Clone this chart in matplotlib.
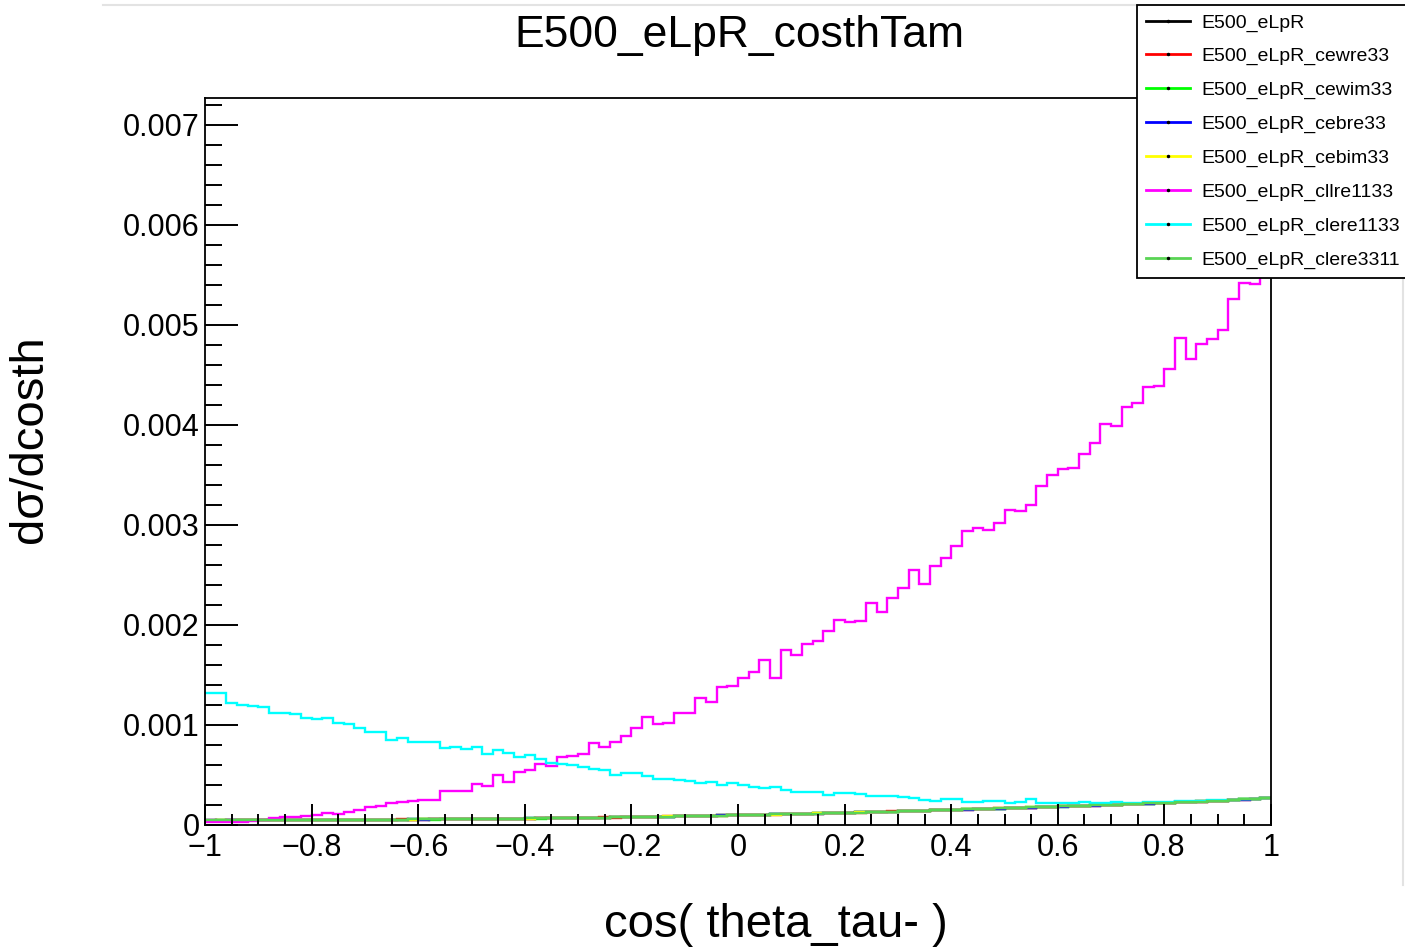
import numpy as np
import matplotlib
matplotlib.use("Agg")
import matplotlib.pyplot as plt
from matplotlib.lines import Line2D
from matplotlib.ticker import MultipleLocator, FuncFormatter

plt.rcParams['font.family'] = ['Liberation Sans', 'DejaVu Sans']

# ---------------- data (values in units of 1e-6) ----------------
x_range = (-1.0, 1.0)
n_bins = 100
unit = 1e-6

eLpR = [45,46,46,47,47,48,48,49,49,50,
        50,51,51,52,52,53,53,54,54,55,
        56,56,57,58,59,60,61,62,63,64,
        65,66,68,69,70,72,73,75,76,78,
        80,81,83,85,87,89,91,93,95,97,
        99,101,104,106,108,111,113,116,118,121,
        124,126,129,132,135,138,141,144,147,150,
        153,156,159,162,165,169,172,175,179,182,
        186,189,193,196,200,204,207,211,215,219,
        223,227,231,235,239,244,250,256,262,270]
cewre33 = [47,44,48,46,49,47,50,48,47,51,
           49,52,50,53,51,54,52,53,56,54,
           55,58,56,59,57,61,60,63,62,65,
           64,67,67,70,69,73,72,76,75,79,
           79,83,82,86,86,90,90,94,96,96,
           101,100,105,105,110,110,115,115,120,120,
           125,125,130,131,136,137,142,143,148,149,
           155,155,160,161,167,168,174,174,180,181,
           188,188,195,195,202,203,209,210,217,218,
           225,226,233,234,241,243,252,255,264,269]
cewim33 = [44,47,45,48,46,49,47,50,48,49,
           51,50,52,51,53,52,54,53,55,56,
           57,55,58,57,60,59,62,61,64,63,
           66,65,69,68,71,71,74,74,77,77,
           81,80,84,84,88,88,92,92,96,98,
           98,102,103,107,107,112,112,117,117,122,
           123,127,128,133,134,139,140,145,146,151,
           152,157,158,163,164,170,171,176,178,183,
           185,190,192,197,199,205,206,212,214,220,
           222,228,230,236,238,245,249,257,261,271]
cebre33 = [46,45,47,46,48,48,49,48,50,49,
           51,50,52,52,51,54,54,55,53,56,
           55,57,58,57,58,61,60,62,64,63,
           66,67,67,70,71,71,74,74,77,79,
           79,82,84,84,88,88,92,92,96,96,
           100,102,103,107,109,110,114,115,119,122,
           123,127,130,131,134,139,142,143,148,151,
           154,155,160,163,164,170,173,174,180,183,
           185,190,194,195,201,203,208,212,214,220,
           224,226,232,236,240,243,251,255,263,270]
cebim33 = [45,47,45,48,46,47,49,48,50,50,
           49,52,50,51,53,52,54,55,54,55,
           57,56,56,59,58,60,62,61,63,65,
           65,66,69,68,71,73,72,75,77,77,
           81,80,83,86,86,90,91,94,94,98,
           98,101,105,105,109,112,112,117,118,120,
           125,126,128,133,135,137,142,145,146,150,
           154,156,158,163,166,168,173,176,178,182,
           187,188,194,197,199,205,206,212,216,218,
           224,228,230,236,240,244,249,257,262,269]
cllre1133 = [30,30,30,35,40,50,67,80,85,90,
             100,125,110,135,150,184,194,220,230,240,
             250,255,340,340,345,411,390,500,434,527,
             551,611,591,678,691,708,818,784,834,891,
             968,1078,1011,1018,1118,1118,1268,1235,1385,1392,
             1474,1535,1652,1469,1746,1702,1813,1843,1936,2046,
             2026,2043,2220,2126,2270,2370,2554,2410,2594,2670,
             2787,2937,2971,2947,3024,3148,3138,3204,3395,3505,
             3562,3572,3712,3822,4012,3989,4182,4216,4380,4390,
             4563,4873,4657,4807,4864,4950,5264,5418,5408,5650]
clere1133 = [1320,1320,1225,1205,1190,1185,1125,1118,1111,1068,
             1058,1071,1025,1008,968,935,935,851,868,834,
             834,828,774,784,758,778,708,751,718,684,
             701,658,624,608,601,584,558,551,500,524,
             517,491,457,464,451,444,417,431,400,417,
             405,377,367,377,350,334,334,327,300,317,
             317,310,290,294,290,277,267,250,240,260,
             257,234,234,244,240,224,234,257,217,224,
             217,217,234,217,217,227,224,217,234,227,
             232,236,238,242,246,250,254,258,263,268]
clere3311 = [46,46,47,46,48,49,47,50,49,51,
             50,50,52,53,52,53,55,54,55,56,
             56,57,58,58,60,59,61,63,62,64,
             66,66,68,70,69,72,74,74,76,78,
             80,82,82,85,88,88,91,94,94,97,
             100,100,104,107,107,111,114,115,118,122,
             124,125,130,132,134,139,141,143,148,150,
             153,157,159,161,166,169,171,176,179,181,
             186,190,192,197,200,203,208,210,216,219,
             223,227,232,234,240,244,250,256,262,271]

labels = ["E500_eLpR", "E500_eLpR_cewre33", "E500_eLpR_cewim33", "E500_eLpR_cebre33",
          "E500_eLpR_cebim33", "E500_eLpR_cllre1133", "E500_eLpR_clere1133", "E500_eLpR_clere3311"]
series = [eLpR, cewre33, cewim33, cebre33, cebim33, cllre1133, clere1133, clere3311]
colors = ["#000000", "#ff0000", "#00ff00", "#0000ff", "#ffff00", "#ff00ff", "#00ffff", "#59d454"]

# ---------------- figure ----------------
W, H = 1405, 950
fig = plt.figure(figsize=(W / 100, H / 100), dpi=100)
fig.patch.set_facecolor("white")

ax_l, ax_r, ax_t, ax_b = 205, 1271, 97.5, 825
ax = fig.add_axes([ax_l / W, 1 - ax_b / H, (ax_r - ax_l) / W, (ax_b - ax_t) / H])

edges = np.linspace(x_range[0], x_range[1], n_bins + 1)
for vals, col in zip(series, colors):
    ax.stairs(np.array(vals) * unit, edges, color=col, linewidth=1.7, baseline=None)

ax.set_xlim(-1, 1)
ax.set_ylim(0, 0.007275)

for s in ax.spines.values():
    s.set_linewidth(1.3)
    s.set_color("black")

ax.xaxis.set_major_locator(MultipleLocator(0.2))
ax.xaxis.set_minor_locator(MultipleLocator(0.05))
ax.yaxis.set_major_locator(MultipleLocator(0.001))
ax.yaxis.set_minor_locator(MultipleLocator(0.0002))

def xfmt(v, pos):
    s = "%g" % round(v, 6)
    if s == "-0":
        s = "0"
    return s.replace("-", "\u2212")

def yfmt(v, pos):
    if abs(v) < 1e-12:
        return "0"
    return "%.3f" % v

ax.xaxis.set_major_formatter(FuncFormatter(xfmt))
ax.yaxis.set_major_formatter(FuncFormatter(yfmt))

ax.tick_params(axis="x", which="major", direction="in", length=15, width=1.4, top=False,
               labelsize=22, pad=6)
ax.tick_params(axis="x", which="minor", direction="in", length=8, width=1.4, top=False)
ax.tick_params(axis="y", which="major", direction="in", length=24, width=1.4, right=False,
               labelsize=22, pad=4)
ax.tick_params(axis="y", which="minor", direction="in", length=12, width=1.4, right=False)

# titles
fig.text(739 / W, 1 - 35 / H, "E500_eLpR_costhTam", ha="center", va="center", fontsize=32)
fig.text(776 / W, 1 - 925 / H, "cos( theta_tau- )", ha="center", va="center", fontsize=34)
fig.text(30 / W, 1 - 439 / H, "d\u03c3/dcosth", ha="center", va="center", fontsize=34,
         rotation=90)

# faint canvas borders
fig.add_artist(Line2D([103 / W, 1137 / W], [1 - 5 / H, 1 - 5 / H], color="#e3e3e3",
                      linewidth=1.5, transform=fig.transFigure))
fig.add_artist(Line2D([1403 / W, 1403 / W], [1 - 278 / H, 1 - 885 / H], color="#e3e3e3",
                      linewidth=1.5, transform=fig.transFigure))

# legend
handles = [Line2D([], [], color=c, linewidth=2.0, marker=".", markersize=3,
                  markerfacecolor="k", markeredgecolor="k") for c in colors]
leg = fig.legend(handles, labels, loc="upper left",
                 bbox_to_anchor=(1137 / W, 1 - 5 / H), bbox_transform=fig.transFigure,
                 fontsize=14, frameon=True, fancybox=False, framealpha=1,
                 edgecolor="black", handlelength=2.3, handletextpad=0.55,
                 labelspacing=0.83, borderpad=0.45, borderaxespad=0)
leg.get_frame().set_linewidth(1.3)
leg.set_zorder(10)

fig.savefig("out.png", dpi=100, facecolor="white")
